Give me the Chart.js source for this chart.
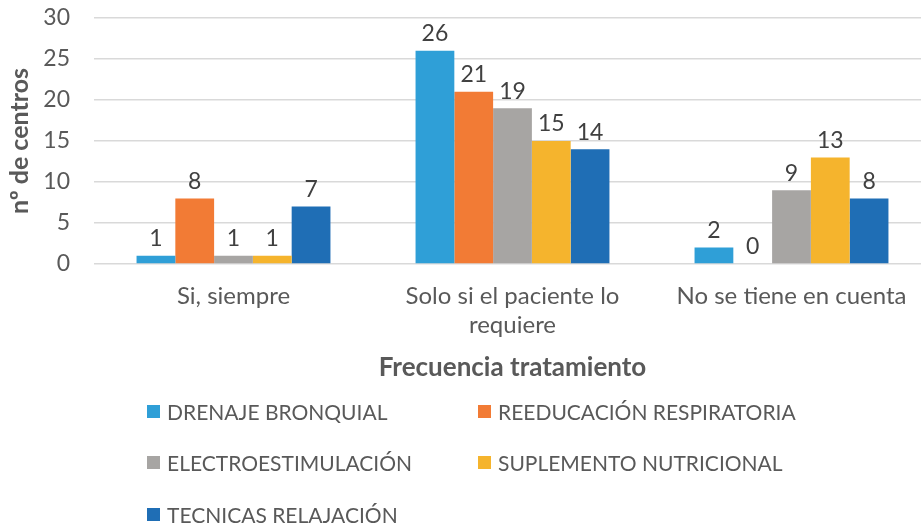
<!DOCTYPE html>
<html>
<head>
<meta charset="utf-8">
<script src="https://cdn.jsdelivr.net/npm/chart.js@4"></script>
<style>
  html, body { margin: 0; padding: 0; background: #fff; overflow: hidden; width: 921px; height: 529px; }
  #wrap { position: absolute; left: 0; top: 0; width: 940px; height: 390px; }
  #legend { position: absolute; left: 0; top: 0; width: 921px; height: 529px; pointer-events: none;
            font-family: Lato, "Open Sans", sans-serif; font-size: 21px; color: #595959; }
  .item { position: absolute; display: flex; align-items: center; height: 30px; white-space: nowrap; }
  .box { width: 13px; height: 13px; margin-right: 7px; }
</style>
</head>
<body>
<div id="wrap"><canvas id="c" width="940" height="390"></canvas></div>
<div id="legend"></div>
<script>
const categories = [["Si, siempre"], ["Solo si el paciente lo", "requiere"], ["No se tiene en cuenta"]];
const seriesNames = ["DRENAJE BRONQUIAL", "REEDUCACIÓN RESPIRATORIA", "ELECTROESTIMULACIÓN", "SUPLEMENTO NUTRICIONAL", "TECNICAS RELAJACIÓN"];
const drenaje = [1, 26, 2];
const reeducacion = [8, 21, 0];
const electro = [1, 19, 9];
const suplemento = [1, 15, 13];
const tecnicas = [7, 14, 8];
const colors = ["#2F9FD7", "#F27B35", "#A7A5A3", "#F5B42D", "#1F6EB5"];
const yTicks = [0, 5, 10, 15, 20, 25, 30];

const seriesValues = [drenaje, reeducacion, electro, suplemento, tecnicas];
const FONT = "Lato, 'Open Sans', sans-serif";

const valueLabels = {
  id: 'valueLabels',
  afterDatasetsDraw(chart) {
    const ctx = chart.ctx;
    ctx.save();
    ctx.font = "23px " + FONT;
    ctx.fillStyle = "#404040";
    ctx.textAlign = "center";
    ctx.textBaseline = "middle";
    chart.data.datasets.forEach((ds, i) => {
      const meta = chart.getDatasetMeta(i);
      meta.data.forEach((el, j) => {
        ctx.fillText(String(ds.data[j]), el.x, el.y - 17);
      });
    });
    ctx.restore();
  }
};

new Chart(document.getElementById('c'), {
  type: 'bar',
  data: {
    labels: categories,
    datasets: seriesNames.map((n, i) => ({
      label: n,
      data: seriesValues[i],
      backgroundColor: colors[i],
      borderWidth: 0,
      barPercentage: 1.0,
      categoryPercentage: 0.695
    }))
  },
  options: {
    responsive: false,
    animation: false,
    layout: { padding: { left: 0, right: 9, top: 18, bottom: 0 } },
    plugins: { legend: { display: false }, tooltip: { enabled: false } },
    scales: {
      x: {
        grid: { display: false, drawTicks: false },
        border: { display: false },
        ticks: { color: "#595959", font: { family: FONT, size: 24, lineHeight: 1.2083 }, padding: 18, maxRotation: 0, autoSkip: false },
        title: { display: true, text: "Frecuencia tratamiento", color: "#595959",
                 font: { family: FONT, size: 26, weight: 'bold', lineHeight: 1.2 }, padding: { top: 6, bottom: 7 } },
        afterFit(s) { s.height = 126; s.paddingLeft = 0; s.paddingRight = 0; }
      },
      y: {
        min: 0, max: 30,
        afterBuildTicks(s) { s.ticks = yTicks.map(v => ({ value: v })); },
        grid: { color: "#D9D9D9", lineWidth: 1.5, drawTicks: false },
        border: { display: false },
        ticks: { color: "#595959", font: { family: FONT, size: 23 }, padding: 24 },
        title: { display: true, text: "nº de centros", color: "#595959",
                 font: { family: FONT, size: 25, weight: 'bold', lineHeight: 1.2 }, padding: { top: 5, bottom: 0 } },
        afterFit(s) { s.width = 94; s.paddingTop = 0; s.paddingBottom = 0; }
      }
    }
  },
  plugins: [valueLabels]
});

// HTML legend (two columns)
const legendPos = [[147, 411], [478, 411], [147, 462], [478, 462], [147, 514]];
const lg = document.getElementById('legend');
seriesNames.forEach((n, i) => {
  const d = document.createElement('div');
  d.className = 'item';
  d.style.left = legendPos[i][0] + 'px';
  d.style.top = (legendPos[i][1] - 15) + 'px';
  d.innerHTML = '<span class="box" style="background:' + colors[i] + '"></span><span>' + n + '</span>';
  lg.appendChild(d);
});
</script>
</body>
</html>
